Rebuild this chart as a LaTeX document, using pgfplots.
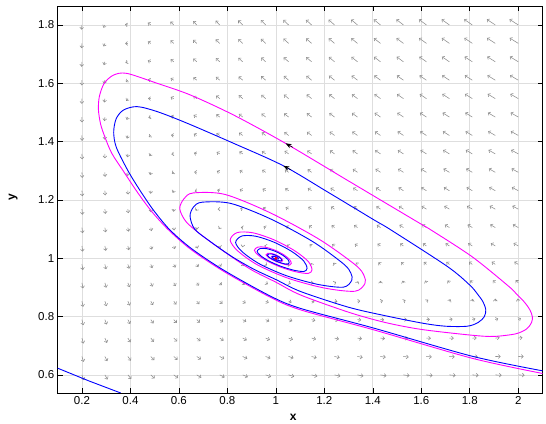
\documentclass[border=0pt]{standalone}
\usepackage{fontspec}
\setmainfont{Liberation Sans}
\usepackage{pgfplots}
\pgfplotsset{compat=1.18}
\usepackage{pgfplotstable}
\usetikzlibrary{arrows.meta}
\definecolor{qgray}{RGB}{140,140,140}
\definecolor{gridc}{RGB}{222,222,222}
\definecolor{mag}{RGB}{255,0,255}
\definecolor{blu}{RGB}{0,0,255}

\pgfplotstableread{
x y u v
0.2 0.6 0.183 -0.399
0.2947 0.6 0.241 -0.336
0.3895 0.6 0.291 -0.291
0.4842 0.6 0.335 -0.255
0.5789 0.6 0.375 -0.227
0.6737 0.6 0.411 -0.202
0.7684 0.6 0.443 -0.181
0.8632 0.6 0.473 -0.162
0.9579 0.6 0.500 -0.145
1.0526 0.6 0.524 -0.130
1.1474 0.6 0.547 -0.116
1.2421 0.6 0.567 -0.103
1.3368 0.6 0.586 -0.091
1.4316 0.6 0.603 -0.080
1.5263 0.6 0.618 -0.069
1.6211 0.6 0.632 -0.060
1.7158 0.6 0.645 -0.051
1.8105 0.6 0.656 -0.042
1.9053 0.6 0.666 -0.034
2.0 0.6 0.675 -0.026
0.2 0.6632 0.163 -0.411
0.2947 0.6632 0.211 -0.341
0.3895 0.6632 0.252 -0.291
0.4842 0.6632 0.287 -0.252
0.5789 0.6632 0.317 -0.220
0.6737 0.6632 0.343 -0.193
0.7684 0.6632 0.366 -0.170
0.8632 0.6632 0.386 -0.149
0.9579 0.6632 0.404 -0.130
1.0526 0.6632 0.419 -0.113
1.1474 0.6632 0.432 -0.098
1.2421 0.6632 0.443 -0.084
1.3368 0.6632 0.452 -0.071
1.4316 0.6632 0.460 -0.058
1.5263 0.6632 0.466 -0.047
1.6211 0.6632 0.470 -0.036
1.7158 0.6632 0.473 -0.026
1.8105 0.6632 0.475 -0.016
1.9053 0.6632 0.475 -0.007
2.0 0.6632 0.475 0.002
0.2 0.7263 0.144 -0.420
0.2947 0.7263 0.184 -0.344
0.3895 0.7263 0.216 -0.289
0.4842 0.7263 0.243 -0.247
0.5789 0.7263 0.264 -0.212
0.6737 0.7263 0.282 -0.182
0.7684 0.7263 0.296 -0.156
0.8632 0.7263 0.308 -0.133
0.9579 0.7263 0.317 -0.113
1.0526 0.7263 0.323 -0.094
1.1474 0.7263 0.328 -0.078
1.2421 0.7263 0.330 -0.062
1.3368 0.7263 0.331 -0.048
1.4316 0.7263 0.329 -0.034
1.5263 0.7263 0.327 -0.022
1.6211 0.7263 0.323 -0.010
1.7158 0.7263 0.317 0.001
1.8105 0.7263 0.310 0.012
1.9053 0.7263 0.302 0.022
2.0 0.7263 0.293 0.031
0.2 0.7895 0.128 -0.427
0.2947 0.7895 0.160 -0.345
0.3895 0.7895 0.184 -0.285
0.4842 0.7895 0.202 -0.239
0.5789 0.7895 0.216 -0.201
0.6737 0.7895 0.226 -0.168
0.7684 0.7895 0.232 -0.140
0.8632 0.7895 0.236 -0.115
0.9579 0.7895 0.237 -0.093
1.0526 0.7895 0.235 -0.073
1.1474 0.7895 0.232 -0.055
1.2421 0.7895 0.226 -0.038
1.3368 0.7895 0.219 -0.022
1.4316 0.7895 0.210 -0.008
1.5263 0.7895 0.200 0.006
1.6211 0.7895 0.187 0.019
1.7158 0.7895 0.174 0.031
1.8105 0.7895 0.159 0.043
1.9053 0.7895 0.143 0.053
2.0 0.7895 0.126 0.064
0.2 0.8526 0.112 -0.432
0.2947 0.8526 0.137 -0.343
0.3895 0.8526 0.154 -0.278
0.4842 0.8526 0.165 -0.228
0.5789 0.8526 0.172 -0.187
0.6737 0.8526 0.174 -0.152
0.7684 0.8526 0.173 -0.122
0.8632 0.8526 0.169 -0.095
0.9579 0.8526 0.163 -0.071
1.0526 0.8526 0.154 -0.049
1.1474 0.8526 0.144 -0.030
1.2421 0.8526 0.131 -0.011
1.3368 0.8526 0.116 0.006
1.4316 0.8526 0.100 0.021
1.5263 0.8526 0.082 0.036
1.6211 0.8526 0.063 0.050
1.7158 0.8526 0.042 0.063
1.8105 0.8526 0.020 0.076
1.9053 0.8526 -0.003 0.087
2.0 0.8526 -0.028 0.098
0.2 0.9158 0.098 -0.434
0.2947 0.9158 0.116 -0.338
0.3895 0.9158 0.126 -0.269
0.4842 0.9158 0.130 -0.216
0.5789 0.9158 0.130 -0.171
0.6737 0.9158 0.126 -0.134
0.7684 0.9158 0.118 -0.101
0.8632 0.9158 0.108 -0.073
0.9579 0.9158 0.095 -0.047
1.0526 0.9158 0.079 -0.024
1.1474 0.9158 0.062 -0.002
1.2421 0.9158 0.042 0.017
1.3368 0.9158 0.021 0.036
1.4316 0.9158 -0.002 0.053
1.5263 0.9158 -0.027 0.068
1.6211 0.9158 -0.053 0.083
1.7158 0.9158 -0.081 0.097
1.8105 0.9158 -0.109 0.111
1.9053 0.9158 -0.140 0.123
2.0 0.9158 -0.171 0.135
0.2 0.9789 0.085 -0.435
0.2947 0.9789 0.096 -0.332
0.3895 0.9789 0.100 -0.259
0.4842 0.9789 0.098 -0.201
0.5789 0.9789 0.092 -0.154
0.6737 0.9789 0.081 -0.114
0.7684 0.9789 0.067 -0.079
0.8632 0.9789 0.050 -0.048
0.9579 0.9789 0.031 -0.021
1.0526 0.9789 0.009 0.004
1.1474 0.9789 -0.015 0.027
1.2421 0.9789 -0.041 0.048
1.3368 0.9789 -0.069 0.067
1.4316 0.9789 -0.098 0.086
1.5263 0.9789 -0.129 0.102
1.6211 0.9789 -0.161 0.118
1.7158 0.9789 -0.195 0.133
1.8105 0.9789 -0.230 0.148
1.9053 0.9789 -0.267 0.161
2.0 0.9789 -0.304 0.174
0.2 1.0421 0.072 -0.434
0.2947 1.0421 0.078 -0.324
0.3895 1.0421 0.076 -0.246
0.4842 1.0421 0.068 -0.185
0.5789 1.0421 0.055 -0.135
0.6737 1.0421 0.039 -0.092
0.7684 1.0421 0.019 -0.055
0.8632 1.0421 -0.004 -0.022
0.9579 1.0421 -0.029 0.007
1.0526 1.0421 -0.057 0.034
1.1474 1.0421 -0.087 0.058
1.2421 1.0421 -0.119 0.080
1.3368 1.0421 -0.152 0.101
1.4316 1.0421 -0.187 0.120
1.5263 1.0421 -0.224 0.138
1.6211 1.0421 -0.263 0.155
1.7158 1.0421 -0.302 0.171
1.8105 1.0421 -0.343 0.186
1.9053 1.0421 -0.386 0.201
2.0 1.0421 -0.429 0.214
0.2 1.1053 0.061 -0.431
0.2947 1.1053 0.061 -0.315
0.3895 1.1053 0.053 -0.232
0.4842 1.1053 0.039 -0.167
0.5789 1.1053 0.021 -0.113
0.6737 1.1053 -0.001 -0.068
0.7684 1.1053 -0.026 -0.029
0.8632 1.1053 -0.055 0.006
0.9579 1.1053 -0.086 0.037
1.0526 1.1053 -0.119 0.065
1.1474 1.1053 -0.154 0.091
1.2421 1.1053 -0.192 0.115
1.3368 1.1053 -0.231 0.136
1.4316 1.1053 -0.272 0.157
1.5263 1.1053 -0.314 0.176
1.6211 1.1053 -0.358 0.194
1.7158 1.1053 -0.403 0.211
1.8105 1.1053 -0.450 0.227
1.9053 1.1053 -0.498 0.242
2.0 1.1053 -0.547 0.257
0.2 1.1684 0.049 -0.426
0.2947 1.1684 0.044 -0.304
0.3895 1.1684 0.031 -0.216
0.4842 1.1684 0.012 -0.147
0.5789 1.1684 -0.011 -0.091
0.6737 1.1684 -0.038 -0.043
0.7684 1.1684 -0.069 -0.001
0.8632 1.1684 -0.103 0.035
0.9579 1.1684 -0.139 0.068
1.0526 1.1684 -0.177 0.098
1.1474 1.1684 -0.218 0.125
1.2421 1.1684 -0.261 0.150
1.3368 1.1684 -0.305 0.173
1.4316 1.1684 -0.351 0.195
1.5263 1.1684 -0.399 0.215
1.6211 1.1684 -0.448 0.234
1.7158 1.1684 -0.499 0.252
1.8105 1.1684 -0.550 0.269
1.9053 1.1684 -0.604 0.285
2.0 1.1684 -0.658 0.301
0.2 1.2316 0.039 -0.420
0.2947 1.2316 0.029 -0.291
0.3895 1.2316 0.011 -0.198
0.4842 1.2316 -0.013 -0.126
0.5789 1.2316 -0.041 -0.066
0.6737 1.2316 -0.074 -0.016
0.7684 1.2316 -0.109 0.028
0.8632 1.2316 -0.148 0.067
0.9579 1.2316 -0.189 0.101
1.0526 1.2316 -0.233 0.133
1.1474 1.2316 -0.279 0.161
1.2421 1.2316 -0.326 0.188
1.3368 1.2316 -0.376 0.212
1.4316 1.2316 -0.427 0.235
1.5263 1.2316 -0.479 0.256
1.6211 1.2316 -0.534 0.276
1.7158 1.2316 -0.589 0.295
1.8105 1.2316 -0.646 0.313
1.9053 1.2316 -0.704 0.330
2.0 1.2316 -0.763 0.346
0.2 1.2947 0.029 -0.412
0.2947 1.2947 0.014 -0.277
0.3895 1.2947 -0.009 -0.179
0.4842 1.2947 -0.037 -0.103
0.5789 1.2947 -0.070 -0.041
0.6737 1.2947 -0.108 0.012
0.7684 1.2947 -0.148 0.058
0.8632 1.2947 -0.191 0.099
0.9579 1.2947 -0.237 0.136
1.0526 1.2947 -0.285 0.168
1.1474 1.2947 -0.336 0.199
1.2421 1.2947 -0.388 0.226
1.3368 1.2947 -0.442 0.252
1.4316 1.2947 -0.498 0.276
1.5263 1.2947 -0.556 0.298
1.6211 1.2947 -0.615 0.319
1.7158 1.2947 -0.675 0.339
1.8105 1.2947 -0.736 0.358
1.9053 1.2947 -0.799 0.376
2.0 1.2947 -0.863 0.393
0.2 1.3579 0.019 -0.403
0.2947 1.3579 -0.0001 -0.261
0.3895 1.3579 -0.027 -0.159
0.4842 1.3579 -0.060 -0.079
0.5789 1.3579 -0.098 -0.014
0.6737 1.3579 -0.140 0.042
0.7684 1.3579 -0.184 0.090
0.8632 1.3579 -0.232 0.133
0.9579 1.3579 -0.283 0.171
1.0526 1.3579 -0.336 0.206
1.1474 1.3579 -0.391 0.237
1.2421 1.3579 -0.447 0.266
1.3368 1.3579 -0.506 0.293
1.4316 1.3579 -0.566 0.319
1.5263 1.3579 -0.628 0.342
1.6211 1.3579 -0.692 0.364
1.7158 1.3579 -0.757 0.385
1.8105 1.3579 -0.823 0.405
1.9053 1.3579 -0.890 0.423
2.0 1.3579 -0.958 0.441
0.2 1.4211 0.010 -0.393
0.2947 1.4211 -0.014 -0.244
0.3895 1.4211 -0.045 -0.137
0.4842 1.4211 -0.082 -0.054
0.5789 1.4211 -0.124 0.015
0.6737 1.4211 -0.170 0.073
0.7684 1.4211 -0.219 0.124
0.8632 1.4211 -0.272 0.168
0.9579 1.4211 -0.326 0.208
1.0526 1.4211 -0.383 0.244
1.1474 1.4211 -0.443 0.278
1.2421 1.4211 -0.504 0.308
1.3368 1.4211 -0.567 0.336
1.4316 1.4211 -0.632 0.362
1.5263 1.4211 -0.698 0.387
1.6211 1.4211 -0.766 0.410
1.7158 1.4211 -0.835 0.432
1.8105 1.4211 -0.905 0.453
1.9053 1.4211 -0.977 0.472
2.0 1.4211 -1.049 0.491
0.2 1.4842 0.002 -0.381
0.2947 1.4842 -0.026 -0.226
0.3895 1.4842 -0.062 -0.114
0.4842 1.4842 -0.103 -0.027
0.5789 1.4842 -0.150 0.045
0.6737 1.4842 -0.200 0.106
0.7684 1.4842 -0.253 0.158
0.8632 1.4842 -0.309 0.205
0.9579 1.4842 -0.368 0.247
1.0526 1.4842 -0.429 0.284
1.1474 1.4842 -0.493 0.319
1.2421 1.4842 -0.558 0.351
1.3368 1.4842 -0.625 0.380
1.4316 1.4842 -0.694 0.408
1.5263 1.4842 -0.764 0.433
1.6211 1.4842 -0.836 0.457
1.7158 1.4842 -0.909 0.480
1.8105 1.4842 -0.984 0.502
1.9053 1.4842 -1.060 0.522
2.0 1.4842 -1.136 0.542
0.2 1.5474 -0.007 -0.368
0.2947 1.5474 -0.039 -0.207
0.3895 1.5474 -0.078 -0.090
0.4842 1.5474 -0.124 0.001
0.5789 1.5474 -0.174 0.076
0.6737 1.5474 -0.228 0.139
0.7684 1.5474 -0.285 0.194
0.8632 1.5474 -0.345 0.243
0.9579 1.5474 -0.408 0.286
1.0526 1.5474 -0.473 0.326
1.1474 1.5474 -0.540 0.362
1.2421 1.5474 -0.610 0.395
1.3368 1.5474 -0.681 0.425
1.4316 1.5474 -0.753 0.454
1.5263 1.5474 -0.828 0.481
1.6211 1.5474 -0.904 0.506
1.7158 1.5474 -0.981 0.530
1.8105 1.5474 -1.059 0.552
1.9053 1.5474 -1.139 0.573
2.0 1.5474 -1.220 0.594
0.2 1.6105 -0.015 -0.354
0.2947 1.6105 -0.050 -0.186
0.3895 1.6105 -0.094 -0.065
0.4842 1.6105 -0.143 0.030
0.5789 1.6105 -0.197 0.108
0.6737 1.6105 -0.255 0.174
0.7684 1.6105 -0.316 0.231
0.8632 1.6105 -0.380 0.281
0.9579 1.6105 -0.446 0.327
1.0526 1.6105 -0.515 0.368
1.1474 1.6105 -0.586 0.405
1.2421 1.6105 -0.659 0.440
1.3368 1.6105 -0.734 0.472
1.4316 1.6105 -0.811 0.501
1.5263 1.6105 -0.889 0.529
1.6211 1.6105 -0.968 0.556
1.7158 1.6105 -1.049 0.580
1.8105 1.6105 -1.132 0.604
1.9053 1.6105 -1.215 0.626
2.0 1.6105 -1.300 0.647
0.2 1.6737 -0.023 -0.339
0.2947 1.6737 -0.062 -0.164
0.3895 1.6737 -0.109 -0.038
0.4842 1.6737 -0.162 0.060
0.5789 1.6737 -0.219 0.141
0.6737 1.6737 -0.280 0.209
0.7684 1.6737 -0.345 0.269
0.8632 1.6737 -0.413 0.321
0.9579 1.6737 -0.483 0.369
1.0526 1.6737 -0.556 0.411
1.1474 1.6737 -0.630 0.450
1.2421 1.6737 -0.707 0.486
1.3368 1.6737 -0.786 0.519
1.4316 1.6737 -0.866 0.550
1.5263 1.6737 -0.947 0.579
1.6211 1.6737 -1.031 0.606
1.7158 1.6737 -1.115 0.632
1.8105 1.6737 -1.201 0.656
1.9053 1.6737 -1.288 0.679
2.0 1.6737 -1.377 0.701
0.2 1.7368 -0.030 -0.323
0.2947 1.7368 -0.073 -0.142
0.3895 1.7368 -0.123 -0.011
0.4842 1.7368 -0.180 0.091
0.5789 1.7368 -0.240 0.175
0.6737 1.7368 -0.305 0.246
0.7684 1.7368 -0.374 0.308
0.8632 1.7368 -0.445 0.362
0.9579 1.7368 -0.518 0.411
1.0526 1.7368 -0.595 0.456
1.1474 1.7368 -0.673 0.496
1.2421 1.7368 -0.753 0.533
1.3368 1.7368 -0.835 0.568
1.4316 1.7368 -0.919 0.600
1.5263 1.7368 -1.004 0.630
1.6211 1.7368 -1.091 0.658
1.7158 1.7368 -1.179 0.685
1.8105 1.7368 -1.268 0.710
1.9053 1.7368 -1.359 0.734
2.0 1.7368 -1.451 0.757
0.2 1.8 -0.037 -0.306
0.2947 1.8 -0.083 -0.118
0.3895 1.8 -0.137 0.018
0.4842 1.8 -0.197 0.124
0.5789 1.8 -0.261 0.210
0.6737 1.8 -0.329 0.284
0.7684 1.8 -0.401 0.348
0.8632 1.8 -0.476 0.405
0.9579 1.8 -0.553 0.455
1.0526 1.8 -0.632 0.501
1.1474 1.8 -0.714 0.543
1.2421 1.8 -0.797 0.582
1.3368 1.8 -0.883 0.617
1.4316 1.8 -0.970 0.651
1.5263 1.8 -1.059 0.682
1.6211 1.8 -1.149 0.711
1.7158 1.8 -1.240 0.739
1.8105 1.8 -1.333 0.765
1.9053 1.8 -1.427 0.789
2.0 1.8 -1.522 0.813
}\quivtab

\begin{document}
\begin{tikzpicture}
\begin{axis}[
  scale only axis, width=484.8pt, height=386.7pt,
  xmin=0.1, xmax=2.1, ymin=0.538, ymax=1.864,
  xtick={0.2,0.4,0.6,0.8,1,1.2,1.4,1.6,1.8,2},
  xticklabels={0.2,0.4,0.6,0.8,1,1.2,1.4,1.6,1.8,2},
  ytick={0.6,0.8,1,1.2,1.4,1.6,1.8},
  yticklabels={0.6,0.8,1,1.2,1.4,1.6,1.8},
  /pgf/number format/assume math mode=true,
  tick align=inside, major tick length=5pt,
  tick style={black, line width=0.6pt},
  grid=major, grid style={gridc, line width=0.7pt},
  axis line style={black, line width=0.8pt},
  tick label style={font=\fontsize{11.5}{13}\selectfont},
  xlabel={x}, ylabel={y},
  every axis x label/.style={at={(axis description cs:0.486,-0.064)}, anchor=center, font=\bfseries\fontsize{12}{14}\selectfont},
  every axis y label/.style={at={(axis description cs:-0.092,0.507)}, anchor=center, rotate=90, font=\bfseries\fontsize{12}{14}\selectfont},
]
\coordinate (SW) at (rel axis cs:0,0);
\coordinate (NE) at (rel axis cs:1,1);

\addplot[qgray, line width=0.55pt, -{Straight Barb[length=2pt,width=3.8pt]},
  quiver={
    u={0.05*\thisrow{u}/sqrt(sqrt((2.424*\thisrow{u})^2+(2.916*\thisrow{v})^2))},
    v={0.05*\thisrow{v}/sqrt(sqrt((2.424*\thisrow{u})^2+(2.916*\thisrow{v})^2))}
  }] table {\quivtab};

% magenta trajectory
\addplot[mag, line width=0.9pt, smooth] coordinates {
(1.0123,0.9965) (1.0110,0.9991) (1.0063,1.0024) (0.9992,1.0055) (0.9913,1.0074) (0.9848,1.0074)
(0.9819,1.0053) (0.9851,1.0022) (0.9932,0.9980) (1.0045,0.9937) (1.0163,0.9906) (1.0251,0.9895)
(1.0279,0.9921) (1.0249,0.9980) (1.0143,1.0054) (0.9981,1.0123) (0.9804,1.0167) (0.9662,1.0168)
(0.9596,1.0120) (0.9668,1.0049) (0.9847,0.9954) (1.0102,0.9860) (1.0370,0.9789) (1.0574,0.9766)
(1.0637,0.9822) (1.0570,0.9954) (1.0325,1.0121) (0.9958,1.0279) (0.9565,1.0379) (0.9254,1.0382)
(0.9115,1.0272) (0.9268,1.0111) (0.9659,0.9897) (1.0230,0.9687) (1.0852,0.9531) (1.1338,0.9481)
(1.1492,0.9605) (1.1329,0.9897) (1.0746,1.0274) (0.9905,1.0638) (0.9048,1.0874) (0.8400,1.0880)
(0.8116,1.0624) (0.8428,1.0251) (0.9249,0.9770) (1.0525,0.9309) (1.2020,0.8976) (1.3266,0.8869)
(1.3675,0.9132) (1.3634,0.9412) (1.3287,0.9767) (1.1804,1.0642) (0.9780,1.1554) (0.7894,1.2190)
(0.6586,1.2239) (0.6209,1.2040) (0.6035,1.1700) (0.6300,1.1250) (0.7000,1.0750) (0.8000,1.0150)
(0.9000,0.9600) (1.0000,0.9180) (1.1020,0.8740) (1.3000,0.8150) (1.4500,0.7800) (1.6000,0.7560)
(1.81,0.736) (1.90,0.732) (1.99,0.741) (2.035,0.758) (2.055,0.780)
(2.058,0.800) (2.048,0.823) (2.025,0.850) (1.99,0.880) (1.956,0.907)
(1.81,1.005) (1.64,1.097) (1.571,1.131) (1.3,1.265) (1.04,1.394) (0.826,1.491)
(0.647,1.56) (0.51,1.60) (0.385,1.634) (0.33,1.628) (0.292,1.600) (0.272,1.555) (0.268,1.51)
(0.277,1.46) (0.295,1.415) (0.323,1.36) (0.37,1.30) (0.43,1.225) (0.49,1.158) (0.56,1.095)
(0.65,1.03) (0.787,0.954) (0.978,0.866)
(1.102,0.823) (1.406,0.754) (1.81,0.657) (2.1,0.605)
};

% blue trajectory
\addplot[blu, line width=0.9pt, smooth] coordinates {
(1.0107,0.9969) (1.0096,0.9992) (1.0055,1.0021) (0.9993,1.0047) (0.9924,1.0064) (0.9868,1.0065)
(0.9842,1.0046) (0.9870,1.0019) (0.9940,0.9982) (1.0039,0.9945) (1.0142,0.9918) (1.0218,0.9909)
(1.0242,0.9931) (1.0217,0.9982) (1.0124,1.0047) (0.9984,1.0107) (0.9830,1.0145) (0.9705,1.0146)
(0.9648,1.0105) (0.9710,1.0043) (0.9867,0.9960) (1.0088,0.9878) (1.0321,0.9816) (1.0498,0.9796)
(1.0552,0.9845) (1.0494,0.9960) (1.0282,1.0105) (0.9963,1.0242) (0.9621,1.0329) (0.9348,1.0332)
(0.9225,1.0237) (0.9360,1.0096) (0.9703,0.9910) (1.0200,0.9727) (1.0737,0.9591) (1.1154,0.9547)
(1.1287,0.9655) (1.1147,0.9910) (1.0646,1.0238) (0.9917,1.0553) (0.9167,1.0756) (0.8593,1.0762)
(0.8340,1.0541) (0.8617,1.0218) (0.9343,0.9799) (1.0455,0.9396) (1.1736,0.9103) (1.2788,0.9009)
(1.3130,0.9241) (1.3096,0.9486) (1.2805,0.9797) (1.1552,1.0556) (0.9808,1.1339) (0.8140,1.1880)
(0.6954,1.1922) (0.6606,1.1760) (0.6460,1.1450) (0.6650,1.1000) (0.7300,1.0570) (0.8200,1.0050)
(0.9100,0.9620) (1.0000,0.9270) (1.1020,0.8860) (1.3000,0.8320) (1.4558,0.8022) (1.608,0.777)
(1.70,0.767) (1.79,0.767) (1.835,0.780) (1.860,0.800)
(1.866,0.823) (1.855,0.850) (1.833,0.876) (1.80,0.908)
(1.709,0.971) (1.475,1.097) (1.406,1.131) (1.22,1.224) (1.031,1.317) (0.826,1.394)
(0.634,1.463) (0.51,1.503) (0.427,1.52) (0.371,1.508) (0.341,1.478) (0.331,1.432) (0.342,1.380)
(0.39,1.30) (0.44,1.232) (0.495,1.165) (0.562,1.098) (0.652,1.033) (0.787,0.958) (0.978,0.870)
(1.102,0.828) (1.406,0.760) (1.81,0.664) (2.1,0.614)
};

\addplot[blu, line width=0.9pt] coordinates {(0.1,0.623) (0.23,0.579) (0.36,0.538)};

\addplot[only marks, mark=*, mark size=1.3pt, red] coordinates {(1,1)};

\addplot[black, line width=0.6pt, -{Stealth[length=6pt,width=4.5pt]},
  quiver={u=\thisrow{u}, v=\thisrow{v}}] table[row sep=\\] {
x y u v\\
1.07 1.3805 -0.03 0.0135\\
1.061 1.3038 -0.03 0.0132\\
};
\end{axis}
\pgfresetboundingbox
\path[use as bounding box] ([xshift=-57.7pt,yshift=-31pt]SW) rectangle ([xshift=3.5pt,yshift=6.3pt]NE);
\end{tikzpicture}
\end{document}
